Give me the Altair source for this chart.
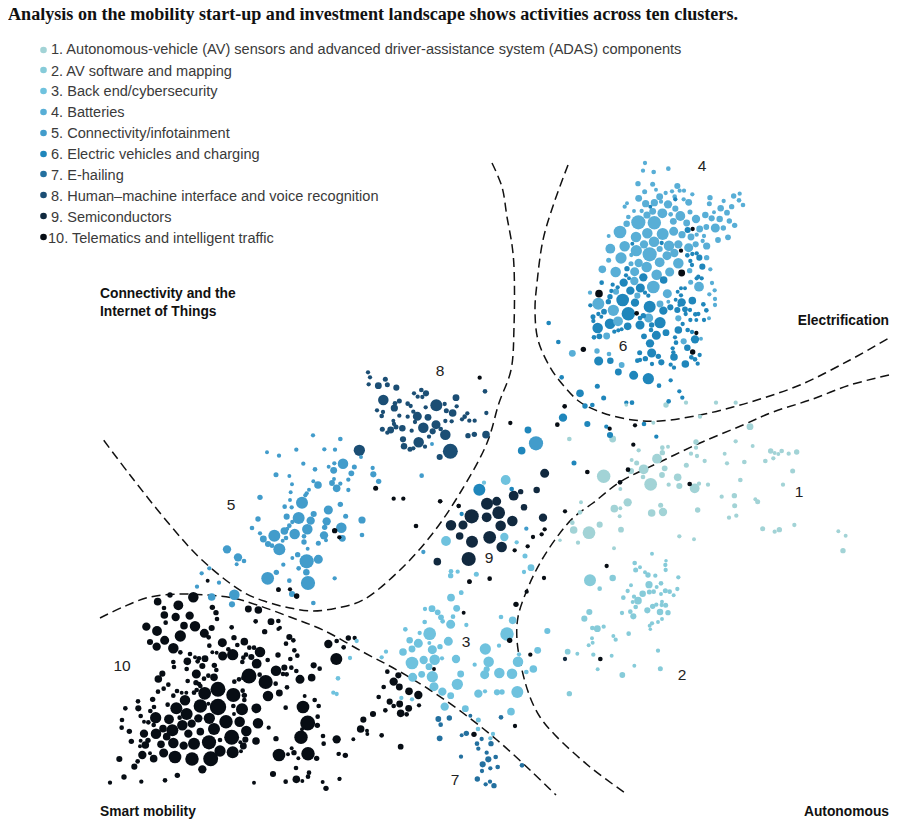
import altair as alt
import pandas as pd

TITLE = "Analysis on the mobility start-up and investment landscape shows activities across ten clusters."
NAMES = ["1. Autonomous-vehicle (AV) sensors and advanced driver-assistance system (ADAS) components",
         "2. AV software and mapping", "3. Back end/cybersecurity", "4. Batteries",
         "5. Connectivity/infotainment", "6. Electric vehicles and charging", "7. E-hailing",
         "8. Human\u2013machine interface and voice recognition", "9. Semiconductors",
         "10. Telematics and intelligent traffic"]
COLORS = ["#a2d3d6", "#86cbd9", "#6fc2de", "#58aed6", "#429ccb", "#1f86bb", "#23709f", "#1b4e74", "#11293f", "#070d14"]
LEGEND_Y = [50, 70, 91, 112, 133, 154, 174, 195, 216, 237]
LEGEND_TY = [49.3, 70.7, 91.3, 112.3, 133.3, 154, 175, 195.7, 216.7, 237.7]
LEGEND_TX = [51, 51, 51, 51, 51, 51, 51, 51, 51, 48]

# (x, y, diameter) read in 3x crops, each crop has its own origin
c1_o = (560, 400)
c1 = [(28,117,10),(158,117,16),(199,15,7),(280,68,8),(378,8,9),(468,8,9),(527,8,9),(318,15,12),(420,50,9),(570,80,16),(527,124,9),(578,138,8),(408,126,12),(408,143,9),(393,161,9),(411,168,9),(434,183,9),(494,161,8),(501,190,9),(553,186,10),(616,183,10),(632,153,12),(644,159,8),(655,162,8),(665,153,10),(640,175,9),(686,161,9),(710,156,12),(698,213,11),(541,240,10),(669,254,9),(236,151,9),(215,180,8),(230,189,11),(307,143,10),(324,140,8),(307,158,12),(291,176,24),(213,213,14),(251,208,24),(314,205,13),(379,196,11),(249,231,10),(306,225,13),(353,232,18),(272,253,32),(326,254,9),(358,258,14),(417,251,9),(444,254,9),(404,265,24),(181,267,8),(485,290,9),(523,287,12),(524,317,11),(586,298,8),(593,305,11),(203,307,20),(163,326,18),(181,325,8),(302,316,11),(275,339,18),(309,336,20),(413,330,12),(529,347,9),(507,353,9),(179,349,8),(63,307,8),(60,337,10),(37,368,10),(119,374,14),(41,390,18),(87,398,32),(183,389,13),(54,428,9),(0,421,7),(358,409,9),(402,418,8),(162,445,8),(608,386,11),(644,395,9),(658,389,12),(703,375,9),(835,394,8),(857,407,8),(849,452,12),(131,229,34)]
c2 = [(276,461,8),(318,482,7),(316,495,9),(317,510,9),(224,489,10),(240,502,8),(227,510,11),(255,517,8),(264,525,12),(286,527,9),(355,532,9),(90,541,30),(158,534,15),(119,566,10),(213,556,8),(267,554,17),(303,550,10),(290,561,8),(203,573,9),(248,581,15),(268,576,11),(281,575,10),(316,572,11),(329,575,10),(352,567,9),(303,582,8),(341,586,8),(190,593,10),(222,590,9),(234,602,18),(218,606,8),(306,605,8),(227,621,10),(278,619,12),(289,614,9),(305,615,9),(317,616,11),(262,631,14),(300,636,15),(324,638,12),(186,639,9),(211,635,10),(220,649,14),(88,636,14),(73,656,14),(306,657,8),(294,666,8),(276,670,9),(269,677,8),(271,688,7),(97,684,10),(112,686,16),(131,680,9),(206,701,10),(160,708,8),(167,719,9),(96,715,8),(98,728,8),(86,736,8),(23,755,13),(52,761,8),(100,764,9),(155,767,8),(294,752,9),(223,797,8),(113,808,8),(301,806,11),(187,825,13),(28,881,12)]

c3_o = (330, 580)
c3 = [(363,53,18),(394,38,10),(380,85,16),(285,87,9),(306,86,16),(323,97,13),(333,112,13),(338,124,10),(369,110,10),(409,135,9),(362,133,22),(284,126,10),(226,148,10),(269,159,9),(299,161,32),(239,181,15),(265,190,22),(355,184,22),(330,200,12),(307,209,22),(246,207,16),(219,216,18),(168,215,9),(155,232,9),(281,240,20),(314,239,26),(246,249,32),(378,237,20),(336,235,9),(297,260,16),(275,283,16),(307,290,28),(248,292,22),(392,282,16),(312,320,22),(382,313,28),(337,335,20),(362,347,16),(214,354,9),(246,358,9),(344,380,20),(406,386,16),(60,234,9),(80,183,9),(24,295,10),(10,338,9),(20,342,9),(445,420,11),(444,447,10),(489,462,9),(481,475,9),(298,189,8),(466,207,28),(531,162,34),(548,121,18),(513,111,10),(507,197,9),(476,245,26),(434,254,9),(470,268,14),(464,284,22),(508,279,26),(546,281,26),(564,245,26),(610,267,18),(589,276,10),(623,211,16),(567,223,9),(652,153,14),(445,341,20),(465,334,9),(501,337,14),(516,336,12),(562,336,30),(543,395,18)]
c3b_o = (430, 400)
c3b = [(63,514,10),(62,527,12),(83,515,9),(139,523,11),(303,503,16),(282,516,9),(285,468,11),(260,427,9),(48,423,24),(223,411,20),(93,578,9),(63,593,16),(162,248,9),(227,240,24)]

c7 = [(325,417,13),(358,414,12),(332,434,10),(421,407,8),(513,412,10),(329,475,13),(395,466,8),(409,460,12),(441,491,10),(455,477,9),(483,491,12),(445,506,9),(393,530,9),(470,518,9),(497,531,10),(475,538,14),(458,553,14),(481,565,9),(503,561,10),(456,573,9),(576,556,10),(442,597,12),(467,613,9),(480,605,9),(492,617,12)]

c4_o = (530, 150)
c4 = [(345,39,9),(339,62,9),(371,66,10),(415,56,10),(324,101,12),(368,103,11),(442,108,14),(378,119,8),(344,125,11),(389,140,16),(407,129,9),(426,124,9),(449,122,9),(462,122,9),(487,133,9),(326,145,16),(347,161,17),(373,158,17),(393,155,9),(414,163,20),(434,140,10),(461,148,9),(476,157,16),(540,143,12),(538,161,11),(581,153,9),(611,138,12),(629,131,9),(627,151,10),(639,165,10),(572,175,15),(605,170,12),(591,188,13),(526,195,15),(552,187,8),(480,186,11),(545,205,14),(569,207,15),(598,213,12),(614,226,12),(291,160,8),(284,170,9),(312,183,8),(295,201,10),(335,183,9),(351,195,17),(368,184,16),(397,190,24),(436,176,14),(451,198,24),(422,193,10),(470,219,16),(498,207,20),(430,214,16),(290,221,15),(325,217,36),(373,218,34),(270,246,32),(236,258,8),(318,261,26),(352,250,26),(398,252,30),(431,244,22),(456,254,17),(483,261,16),(509,237,16),(529,231,13),(556,234,22),(580,234,12),(500,254,9),(522,258,9),(518,273,9),(564,270,13),(594,262,13),(497,283,14),(476,293,22),(530,288,17),(241,296,24),(284,289,26),(319,302,28),(342,283,20),(372,275,26),(389,297,14),(417,287,26),(445,283,20),(304,315,9),(273,324,28),(359,313,36),(411,317,22),(433,309,20),(236,331,11),(326,339,20),(350,351,26),(389,337,24),(445,340,26),(303,341,11),(217,358,18),(257,366,26),(314,365,22),(380,374,26),(419,366,22),(479,362,12),(530,323,12),(313,393,20),(370,411,32),(482,397,11),(507,410,24),(541,358,9),(546,399,9),(554,421,9),(538,433,9),(555,447,9),(412,431,22),(180,428,9),(258,425,14),(322,437,14),(205,461,30),(250,481,28),(264,514,24),(356,504,22),(390,462,16),(415,455,8),(445,505,14),(230,558,16),(461,574,14),(127,610,16),(201,603,12),(237,612,10),(275,645,13),(537,505,8),(555,465,9),(513,566,8)]
c6 = [(361,170,8),(436,148,9),(473,240,14),(307,281,8),(395,279,9),(500,310,9),(487,312,9),(472,316,10),(508,323,14),(481,333,9),(486,345,9),(517,350,14),(291,356,12),(340,382,20),(288,376,9),(297,385,8),(401,390,18),(281,398,20),(215,398,10),(248,404,9),(263,412,9),(301,422,20),(331,414,22),(345,428,9),(355,437,9),(244,423,9),(240,440,12),(235,455,12),(278,450,32),(315,458,20),(359,470,30),(181,466,9),(443,425,8),(453,415,8),(465,415,8),(453,436,9),(455,457,20),(487,452,18),(437,449,8),(520,463,10),(505,380,9),(515,385,9),(500,385,9),(421,472,14),(400,482,20),(442,480,14),(465,478,13),(480,480,9),(448,465,8),(467,492,9),(496,493,10),(505,492,9),(529,481,10),(189,500,11),(205,492,9),(214,500,8),(222,485,13),(295,491,34),(340,497,12),(330,504,10),(190,513,9),(203,534,26),(240,521,26),(293,529,18),(330,525,22),(390,518,28),(365,525,12),(363,540,10),(253,545,9),(265,541,9),(275,538,8),(192,562,10),(208,559,13),(342,559,13),(379,556,22),(408,548,16),(445,540,18),(458,522,9),(481,510,9),(499,510,8),(522,510,9),(473,540,10),(486,546,9),(495,568,20),(435,562,9),(360,580,20),(428,595,9),(472,593,15),(438,578,10),(365,609,22),(329,608,11),(385,619,12),(346,626,12),(322,632,10),(330,630,9),(432,621,18),(430,607,9),(206,633,22),(241,632,15),(394,637,14),(366,642,9),(422,644,9),(432,653,9),(466,642,18),(484,622,10),(495,628,10),(509,615,9),(503,641,9),(265,666,16),(311,676,22),(355,686,28),(422,691,9),(387,707,10),(448,724,9),(202,709,11),(150,730,18),(457,743,9),(95,682,10),(85,576,10),(56,519,10),(221,744,11)]
c6b = [(150,105,14),(139,80,9),(82,72,14),(42,189,11),(9,53,20),(75,18,12),(97,15,10),(199,8,9),(216,8,10),(326,4,10),(252,72,10),(289,110,9)]
c6c = [(294,90,16),(275,152,18),(148,269,30),(245,267,10),(95,342,9)]
c5c = [(318,130,36),(289,386,9)]

c5_o = (200, 360)
c5 = [(339,226,9),(421,237,10),(289,269,9),(373,268,9),(405,269,9),(201,277,8),(237,287,9),(483,291,8),(310,311,9),(429,311,26),(403,310,9),(386,320,8),(463,321,11),(401,331,16),(345,328,10),(228,344,11),(268,348,8),(454,340,13),(518,324,9),(520,343,14),(354,375,18),(340,364,8),(402,357,8),(396,369,13),(421,371,9),(445,359,9),(536,364,12),(276,373,8),(410,385,18),(445,390,9),(327,389,8),(272,397,8),(320,400,9),(316,406,9),(180,412,12),(270,420,8),(306,428,30),(421,433,12),(254,440,10),(275,442,9),(385,450,22),(341,462,14),(437,469,11),(174,477,12),(260,470,14),(296,474,30),(332,482,20),(380,484,20),(486,480,17),(277,486,9),(268,497,10),(156,504,10),(262,506,8),(253,513,18),(322,508,26),(374,502,12),(424,503,26),(180,520,9),(223,527,30),(284,522,26),(372,526,20),(486,525,10),(190,537,16),(258,534,10),(312,529,10),(427,535,16),(378,541,8),(248,542,8),(312,546,12),(355,550,11),(204,552,14),(216,557,10),(238,568,30),(323,566,8),(81,568,20),(293,584,12),(277,594,8),(114,592,20),(132,603,10),(355,598,22),(320,604,36),(250,614,9),(110,613,8),(296,625,10),(319,637,15),(229,637,12),(203,655,32),(404,655,9),(268,662,10),(324,669,36),(5,640,9),(28,625,9),(57,668,9),(276,702,14),(35,711,18),(103,704,26),(96,733,14),(-9,680,9),(340,729,10),(665,347,10),(696,252,8),(670,576,9)]
c8 = [(504,37,9),(510,52,9),(506,73,9),(535,77,16),(556,58,11),(562,74,11),(589,83,14),(550,120,26),(598,123,11),(585,130,10),(583,144,17),(531,151,9),(549,156,9),(545,168,10),(598,167,9),(623,131,10),(632,138,9),(642,100,9),(664,90,10),(678,100,14),(653,110,9),(667,111,9),(640,155,9),(652,169,22),(623,170,9),(709,136,30),(734,132,9),(768,113,16),(770,139,9),(739,152,11),(758,159,18),(802,160,9),(794,170,10),(786,178,9),(808,182,9),(824,182,9),(855,94,10),(859,159,9),(684,172,16),(677,142,9),(708,194,22),(670,203,26),(645,186,9),(635,212,9),(580,182,8),(582,192,9),(588,201,11),(607,205,15),(547,208,11),(562,218,9),(572,210,16),(698,214,14),(722,207,10),(736,224,26),(755,184,9),(736,183,9),(804,227,12),(823,223,12),(858,224,18),(687,230,9),(609,238,14),(656,247,26),(612,259,15),(630,268,11),(640,265,9),(675,260,9),(751,274,38),(719,291,14),(478,271,28)]

c9_o = (430, 400)
c9 = [(171,311,30),(200,304,22),(206,338,32),(170,352,24),(125,349,36),(63,376,26),(99,375,22),(212,377,26),(247,363,26),(89,408,18),(179,412,32),(126,425,30),(215,441,26),(116,477,36),(22,485,18),(251,287,24),(272,275,12),(320,270,15),(344,220,22),(282,322,15),(339,353,20),(405,777,9)]

c10_o = (90, 580)
c10 = [(310,52,26),(265,76,24),(203,65,18),(222,84,10),(223,105,18),(257,111,20),(299,107,20),(227,128,10),(282,137,18),(315,139,26),(169,140,20),(201,153,24),(271,168,28),(224,181,22),(180,186,14),(200,200,20),(250,205,26),(343,160,22),(365,144,14),(367,82,12),(378,98,12),(381,117,10),(356,172,10),(358,197,10),(271,217,10),(397,188,22),(432,173,12),(463,185,18),(442,195,10),(415,208,10),(428,224,28),(398,228,22),(367,217,8),(380,218,8),(478,203,10),(492,203,10),(468,224,10),(510,216,26),(484,231,14),(500,251,24),(460,233,10),(457,246,10),(533,240,10),(300,222,10),(315,232,8),(327,235,10),(345,236,16),(323,244,10),(292,244,18),(250,246,10),(252,261,10),(290,267,10),(337,258,14),(373,256,12),(379,270,10),(319,282,22),(217,281,14),(205,297,18),(293,303,10),(355,287,10),(342,296,10),(372,292,18),(318,308,12),(327,312,10),(331,318,10),(235,314,10),(221,326,10),(204,335,10),(320,330,10),(312,338,10),(261,333,10),(275,338,8),(289,338,8),(250,347,10),(344,340,32),(384,328,38),(430,345,36),(458,332,10),(463,346,12),(463,360,10),(477,288,38),(433,305,10),(447,298,10),(460,294,10),(509,284,10),(527,306,36),(558,272,26),(583,263,14),(604,263,10),(579,282,10),(590,283,10),(619,273,10),(630,298,22),(665,293,18),(671,256,14),(689,266,10),(557,311,10),(591,322,10),(568,339,16),(534,348,26),(285,361,26),(188,358,12),(144,364,10),(145,385,14),(106,385,10),(192,381,10),(181,393,10),(233,374,10),(259,385,30),(331,378,34),(384,381,42),(355,371,8),(430,378,10),(456,388,30),(499,385,24),(290,402,30),(197,413,28),(152,408,10),(96,420,10),(95,443,10),(118,454,12),(162,425,8),(175,427,10),(237,418,24),(269,413,10),(325,415,20),(358,415,28),(408,425,34),(449,425,26),(504,430,26),(432,402,8),(277,436,26),(305,431,20),(219,446,18),(191,435,10),(247,451,30),(372,447,30),(295,461,20),(331,455,18),(469,453,26),(162,461,20),(198,461,26),(124,484,12),(230,470,18),(174,481,12),(152,482,8),(166,495,18),(150,499,8),(213,493,18),(250,489,26),(281,497,20),(312,491,30),(357,487,36),(425,472,38),(390,480,10),(466,479,14),(451,487,8),(498,483,18),(460,498,16),(453,514,8),(390,513,28),(428,517,30),(221,519,22),(180,520,8),(157,525,20),(255,531,32),(306,537,34),(362,536,38),(191,536,18),(88,537,14),(143,544,10),(133,560,14),(337,568,20),(262,586,12),(102,591,12),(60,608,9),(154,605,9),(225,601,10),(639,381,32),(644,348,8),(674,360,10),(686,378,10),(587,383,10),(653,429,38),(683,410,10),(682,436,12),(636,448,8),(699,468,10),(633,472,34),(558,476,12),(701,491,10),(536,443,9),(605,505,8),(612,518,12),(594,523,8),(567,525,32),(654,521,34),(625,535,8),(680,535,12),(618,564,10),(657,578,10),(549,582,14),(654,590,10),(619,598,18),(637,603,8),(587,605,10),(492,608,8),(698,606,8),(708,625,12),(740,478,20),(745,522,8),(748,597,8),(739,237,30),(715,192,20),(740,183,10),(598,171,14),(610,181,10),(588,191,10),(613,211,10),(622,227,10),(601,237,10),(564,225,12),(570,143,8),(565,147,8),(565,123,10),(543,125,16),(524,155,12),(497,124,10),(505,90,18),(475,87,16),(425,142,10),(240,45,12),(353,2,8),(565,29,10),(620,48,12)]
c10b = [(55,174,12),(74,174,9),(41,202,10),(172,275,10),(205,286,14),(191,305,20),(208,321,16),(161,321,10),(237,334,18),(265,345,20),(146,351,10),(179,365,14),(209,372,16),(191,378,10),(236,385,16),(267,376,9),(166,391,10),(212,400,18),(230,403,10),(129,402,14),(100,419,14),(92,447,18),(111,452,8),(112,462,8),(155,466,10),(70,478,8),(212,500,13),(46,526,12),(27,521,8),(29,596,8),(312,267,8),(401,98,8),(558,73,12),(590,35,9),(418,5,10),(539,181,12),(601,224,9),(555,438,9),(432,463,12)]
c10c = [(839,53,9),(527,385,11),(581,416,9),(610,416,9),(720,424,9),(776,438,9),(648,498,10),(404,512,12),(418,532,9),(236,689,9),(270,688,9),(290,709,10)]
c10d = [(241,69,9),(404,19,10),(382,74,10),(31,304,9),(86,318,9),(405,334,9),(472,216,10),(539,86,9),(615,76,9),(610,134,9),(594,209,10),(570,247,10),(530,498,9),(293,439,9),(254,451,9),(335,403,9),(309,411,9),(344,388,9),(119,545,9),(179,536,10),(342,534,9)]
c10e = [(389,252,10),(121,777,10)]
c10f = [(488,237,9),(453,302,9),(455,369,16),(207,431,18),(320,490,10),(160,598,12),(499,549,9),(488,606,12)]

# Dashed boundary curves, picture coordinates
curve_a = [(492,163),(502,187),(507,217),(512,245),(514,267),(514,327),(511,370),(499,403),(487,443),(460,493),(433,533),(400,570),(363,600),(337,608),(313,611),(290,608),(267,602),(243,592),(202,560),(170,525),(130,475),(102,438)]
curve_b = [(568,165),(554,203),(543,240),(537,283),(535,310),(538,340),(550,367),(563,385),(580,402),(603,413),(633,420),(660,421),(700,415),(733,407),(757,400),(800,385),(850,360),(889,338)]
curve_d = [(889,375),(850,385),(810,400),(773,412),(743,425),(700,443),(660,462),(620,482),(593,503),(573,518),(557,537),(540,563),(527,590),(518,617),(517,640),(522,670),(530,697),(540,717),(555,735),(590,767),(628,795)]
curve_e = [(100,618),(123,607),(150,597),(180,594),(207,595),(233,598),(257,605),(290,617),(323,630),(363,652),(397,670),(430,690),(463,713),(497,740),(530,770),(556,795)]

NUMBER_LABELS = [("4",702,166),("6",623,346),("8",440,371),("5",231,505),("9",489,558),("3",466,642),("1",799,492),("2",682,675),("10",122,666),("7",455,780)]
BOLD_LEFT = [("Connectivity and the",100,293),("Internet of Things",100,311),("Smart mobility",100,811)]
BOLD_RIGHT = [("Electrification",889,320),("Autonomous",889,811)]

groups = [(0,c1,c1_o),(1,c2,c1_o),(2,c3,c3_o),(2,c3b,c3b_o),(3,c4,c4_o),(4,c5,c5_o),(4,c5c,c3b_o),(5,c6,c4_o),(5,c6b,c1_o),(5,c6c,c3b_o),
          (6,c7,c3_o),(7,c8,c5_o),(8,c9,c9_o),(9,c10,c10_o),(9,c10b,c3_o),(9,c10c,c5_o),(9,c10d,c3b_o),(9,c10e,c1_o),(9,c10f,c4_o)]
rows = []
for idx, pts, (ox, oy) in groups:
    for px, py, d in pts:
        rows.append({"x": ox + px / 3, "y": oy + py / 3, "cluster": NAMES[idx], "size": ((d * 1.1 + 3) / 3) ** 2})
points = pd.DataFrame(rows).sort_values("size", ascending=False)

W, H = 884, 812
xs = alt.Scale(domain=[8, 8 + W], nice=False, zero=False)
ys = alt.Scale(domain=[8, 8 + H], nice=False, zero=False, reverse=True)
X = alt.X("x:Q", scale=xs, axis=None)
Y = alt.Y("y:Q", scale=ys, axis=None)
cs = alt.Scale(domain=NAMES, range=COLORS)

curve_rows = []
for name, c in [("a", curve_a), ("b", curve_b), ("d", curve_d), ("e", curve_e)]:
    for i, (x, y) in enumerate(c):
        curve_rows.append({"curve": name, "i": i, "x": x, "y": y})

lines = alt.Chart(pd.DataFrame(curve_rows)).mark_line(
    interpolate="catmull-rom", color="#111111", strokeWidth=1.5, strokeDash=[9, 5]
).encode(x=X, y=Y, detail="curve:N", order="i:Q")

dots = alt.Chart(points).mark_circle(opacity=1).encode(
    x=X, y=Y, size=alt.Size("size:Q", scale=None), color=alt.Color("cluster:N", scale=cs, legend=None))

leg = pd.DataFrame({"cluster": NAMES, "y": LEGEND_Y, "ty": LEGEND_TY, "tx": LEGEND_TX, "x": [43.5] * 10})
leg_dots = alt.Chart(leg).mark_circle(size=44, opacity=1).encode(
    x=X, y=Y, color=alt.Color("cluster:N", scale=cs, legend=None))
leg_text = alt.Chart(leg).mark_text(align="left", baseline="middle", dy=1, font="Liberation Sans", fontSize=14.55, color="#3a3a3a").encode(
    x=alt.X("tx:Q", scale=xs, axis=None), y=alt.Y("ty:Q", scale=ys, axis=None), text="cluster:N")

def texts(items, baseline="middle", **kw):
    df = pd.DataFrame(items, columns=["t", "x", "y"])
    return alt.Chart(df).mark_text(baseline=baseline, **kw).encode(x=X, y=Y, text="t:N")

title = texts([(TITLE, 8, 20)], baseline="alphabetic", align="left", font="Liberation Serif", fontWeight="bold", fontSize=18.1, color="#111111")
nums = texts(NUMBER_LABELS, align="center", font="Liberation Sans", fontSize=15.5, color="#222222")
bl = texts(BOLD_LEFT, align="left", dy=1, font="Liberation Sans", fontWeight="bold", fontSize=13.8, color="#111111")
br = texts(BOLD_RIGHT, align="right", dy=1, font="Liberation Sans", fontWeight="bold", fontSize=13.8, color="#111111")

chart = alt.layer(lines, dots, leg_dots, leg_text, title, nums, bl, br).properties(
    width=W, height=H, padding=0, autosize=alt.AutoSizeParams(type="none"), background="white"
).configure_view(stroke=None)

chart.save("out.html", embed_options={"renderer": "svg", "actions": False})
